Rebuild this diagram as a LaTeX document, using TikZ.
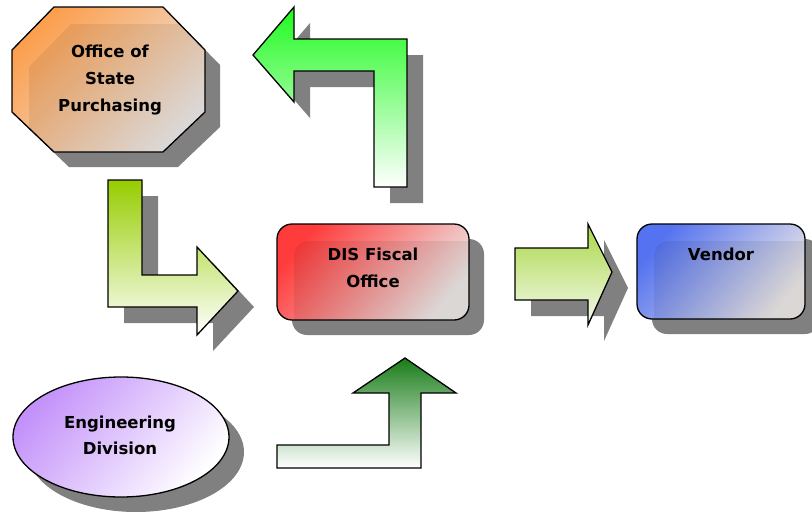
\documentclass[tikz,border=0pt]{standalone}
\usepackage{fontspec}
\setmainfont{DejaVu Sans}
\definecolor{shd}{RGB}{128,128,128}
\definecolor{orangeA}{RGB}{252,160,80}
\definecolor{grayB}{RGB}{236,232,230}
\definecolor{redA}{RGB}{255,60,60}
\definecolor{blueA}{RGB}{85,115,240}
\definecolor{purpA}{RGB}{195,145,250}
\definecolor{greenA}{RGB}{30,250,30}
\definecolor{limeA}{RGB}{150,205,0}
\definecolor{limeB}{RGB}{170,215,70}
\definecolor{dgreenA}{RGB}{25,125,25}
\begin{document}
\begin{tikzpicture}[x=1pt,y=-1pt,
  shadowfill/.style={fill=shd},
  outline/.style={draw=black,line width=1.3pt,line join=miter},
  lbl/.style={font=\bfseries\fontsize{16.5}{27}\selectfont,align=center,inner sep=0pt},
  gloss/.style={fill=black,fill opacity=0.07},
  octpath/.style={insert path={(54,7) -- (163,7) -- (205,50) -- (205,112) -- (163,152) -- (54,152) -- (12,112) -- (12,50) -- cycle}},
  uparrowpath/.style={insert path={(253,55) -- (294,7) -- (294,39) -- (407,39) -- (407,187) -- (374,187) -- (374,71) -- (294,71) -- (294,102) -- cycle}},
  larrowpath/.style={insert path={(108,180) -- (142,180) -- (142,275) -- (197,275) -- (197,247) -- (238,291) -- (197,335) -- (197,307) -- (108,307) -- cycle}},
  rarrowpath/.style={insert path={(515,248) -- (588,248) -- (588,224) -- (612,272) -- (588,325) -- (588,300) -- (515,300) -- cycle}},
  barrowpath/.style={insert path={(277,445) -- (389,445) -- (389,393) -- (353,393) -- (405,358) -- (456,393) -- (421,393) -- (421,468) -- (277,468) -- cycle}},
  disrect/.style={insert path={[rounded corners=15pt] (277,224) rectangle (469,320)}},
  venrect/.style={insert path={[rounded corners=15pt] (637,224) rectangle (805,319)}},
  ellpath/.style={insert path={(121,437) ellipse [x radius=108, y radius=60]}}
]
\useasboundingbox (0,0) rectangle (812,512);

% ---- Office of State Purchasing (octagon)
\fill[shadowfill,shift={(15,15)}] [octpath];
\shade[top color=orangeA,bottom color=grayB,shading angle=45] [octpath];
\begin{scope}
  \clip[octpath];
  \fill[gloss] (71,24) -- (215,24) -- (215,160) -- (29,160) -- (29,67) -- cycle;
\end{scope}
\draw[outline] [octpath];
\node[lbl] (osp) at (110,80) {Office of\\State\\Purchasing};

% ---- green arrow up-left
\fill[shadowfill,shift={(16,16)}] [uparrowpath];
\shade[top color=greenA,bottom color=white] [uparrowpath];
\draw[outline] [uparrowpath];

% ---- L arrow down-right
\fill[shadowfill,shift={(16,16)}] [larrowpath];
\shade[top color=limeA,bottom color=white] [larrowpath];
\draw[outline] [larrowpath];

% ---- DIS Fiscal Office
\fill[shadowfill,shift={(15,15)}] [disrect];
\shade[top color=redA,bottom color=grayB,shading angle=50] [disrect];
\begin{scope}
  \clip[disrect];
  \fill[gloss,rounded corners=15pt] (294,241) rectangle (490,340);
\end{scope}
\draw[outline] [disrect];
\node[lbl] (dis) at (373,268) {DIS Fiscal\\Office};

% ---- right arrow
\fill[shadowfill,shift={(16,16)}] [rarrowpath];
\shade[top color=limeB,bottom color={rgb,255:red,245;green,250;blue,240}] [rarrowpath];
\draw[outline] [rarrowpath];

% ---- Vendor
\fill[shadowfill,shift={(15,15)}] [venrect];
\shade[top color=blueA,bottom color=grayB,shading angle=50] [venrect];
\begin{scope}
  \clip[venrect];
  \fill[gloss,rounded corners=15pt] (654,241) rectangle (830,340);
\end{scope}
\draw[outline] [venrect];
\node[lbl] (ven) at (721,254) {Vendor};

% ---- Engineering Division
\fill[shadowfill,shift={(15,15)}] [ellpath];
\shade[top color=purpA,bottom color=white,shading angle=50] [ellpath];
\draw[outline] [ellpath];
\node[lbl,font=\bfseries\fontsize{16.5}{26}\selectfont] (eng) at (120,435) {Engineering\\Division};

% ---- bottom arrow
\shade[top color=dgreenA,bottom color=white] [barrowpath];
\draw[outline] [barrowpath];
\end{tikzpicture}
\end{document}
